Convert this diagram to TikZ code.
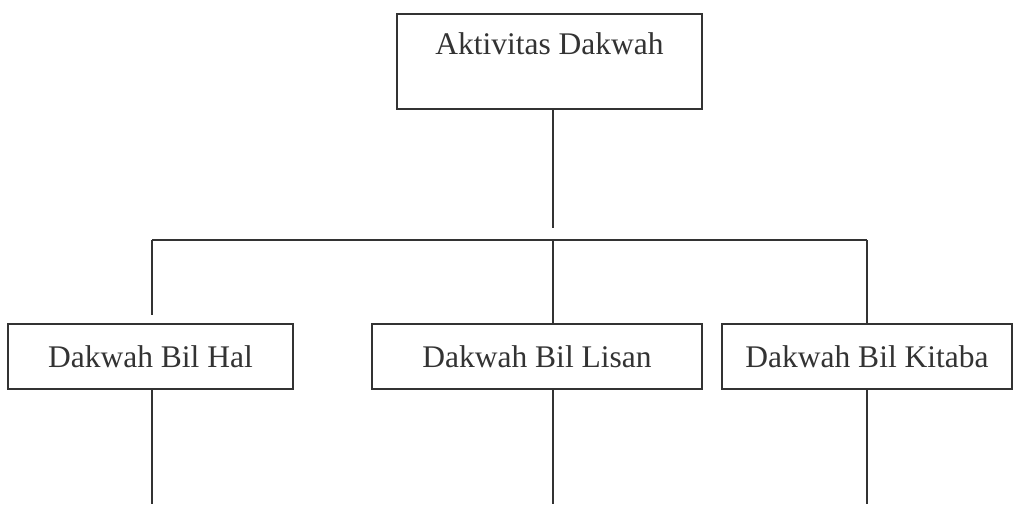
\documentclass[tikz,border=0pt]{standalone}
\usepackage{fontspec}
\setmainfont{Liberation Serif}
\begin{document}
\begin{tikzpicture}[x=0.5pt,y=-0.5pt]
    \path[use as bounding box,fill=white] (0,0) rectangle (1013,504);
    \tikzset{BoxStyle/.style = {%
        shape = rectangle,
        draw = black!80,
        line width = 0.9pt,
        text = black!80,
        font = \fontsize{15.75}{18}\selectfont,
        inner sep = 0pt},
      TopBoxStyle/.style = {BoxStyle,
        minimum width = 152.5pt,
        text height = 20.5pt,
        text depth = 27pt},
      LinkStyle/.style = {draw = black!80, line width = 0.9pt}}
    % boxes
    \node[TopBoxStyle,anchor=north] (dakwah) at (549.5,13) {Aktivitas Dakwah};
    \node[BoxStyle,minimum width=142.5pt,minimum height=32.5pt] (hal) at (150.5,356.5) {Dakwah Bil Hal};
    \node[BoxStyle,minimum width=165pt,minimum height=32.5pt] (lisan) at (537,356.5) {Dakwah Bil Lisan};
    \node[BoxStyle,minimum width=145pt,minimum height=32.5pt] (kitaba) at (867,356.5) {Dakwah Bil Kitaba};
    % line ends
    \coordinate (trunk) at (553,228);
    \coordinate (busL) at (152,240);
    \coordinate (busM) at (553,240);
    \coordinate (busR) at (867,240);
    \coordinate (halTop) at (152,315);
    \coordinate (halEnd) at (152,504);
    \coordinate (lisanEnd) at (553,504);
    \coordinate (kitabaEnd) at (867,504);
    % lines
    \draw[LinkStyle] (dakwah.south -| trunk) -- (trunk);
    \draw[LinkStyle] (busL) -- (busR);
    \draw[LinkStyle] (busL) -- (halTop);
    \draw[LinkStyle] (busM) -- (lisan.north -| busM);
    \draw[LinkStyle] (busR) -- (kitaba.north);
    \draw[LinkStyle] (hal.south -| busL) -- (halEnd);
    \draw[LinkStyle] (lisan.south -| busM) -- (lisanEnd);
    \draw[LinkStyle] (kitaba.south) -- (kitabaEnd);
\end{tikzpicture}
\end{document}
